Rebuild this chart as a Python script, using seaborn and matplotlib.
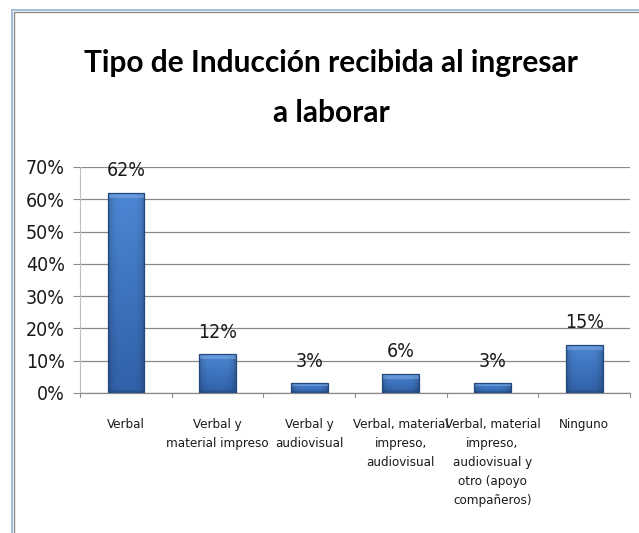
import numpy as np
import pandas as pd
import matplotlib
matplotlib.use("Agg")
import matplotlib.pyplot as plt
import seaborn as sns
from matplotlib.lines import Line2D

categories = ["Verbal", "Verbal y\nmaterial impreso", "Verbal y\naudiovisual",
              "Verbal, material\nimpreso,\naudiovisual",
              "Verbal, material\nimpreso,\naudiovisual y\notro (apoyo\ncompañeros)",
              "Ninguno"]
values = [0.62, 0.12, 0.03, 0.06, 0.03, 0.15]
value_labels = ["62%", "12%", "3%", "6%", "3%", "15%"]
ytick_vals = [0, 0.1, 0.2, 0.3, 0.4, 0.5, 0.6, 0.7]
ytick_labels = ["0%", "10%", "20%", "30%", "40%", "50%", "60%", "70%"]
title_lines = ["Tipo de Inducción recibida al ingresar", "a laborar"]

sns.set_theme(style="white")
NARROW = ["DejaVu Sans"]
plt.rcParams["font.family"] = NARROW
plt.rcParams["font.stretch"] = "condensed"

W, H = 639, 533
fig = plt.figure(figsize=(W / 100, H / 100), dpi=100)
fig.patch.set_facecolor("white")
ax = fig.add_axes([80 / W, 1 - 393 / H, 550 / W, (393 - 167) / H])

df = pd.DataFrame({"cat": categories, "val": values})
sns.barplot(data=df, x="cat", y="val", ax=ax, color="#3A73BE", width=0.40,
            edgecolor="#22487C", linewidth=0.9, zorder=3)

# gradient shading on bars (vertical + edge darkening)
nx, ny = 64, 64
gx = np.linspace(0, 1, nx)
edge = 1 - 0.22 * (np.abs(gx - 0.5) * 2) ** 4
top = np.array([0.30, 0.53, 0.83])
bot = np.array([0.19, 0.38, 0.66])

for p in ax.patches:
    x0, y0 = p.get_x(), p.get_y()
    w, h = p.get_width(), p.get_height()
    gy = np.linspace(1, 0, ny)  # row 0 = top
    col = bot[None, :] + (top - bot)[None, :] * gy[:, None]
    img = col[:, None, :] * edge[None, :, None]
    im = ax.imshow(np.clip(img, 0, 1), extent=[x0, x0 + w, y0, y0 + h],
                   aspect="auto", zorder=3.5, interpolation="bilinear")
    im.set_clip_path(p)
    bev = min(h * 0.3, 0.016)
    ax.fill_between([x0, x0 + w], y0 + h - bev, y0 + h, color="#8AB4EA",
                    alpha=0.45, zorder=3.6, linewidth=0)
    bb = min(h * 0.2, 0.008)
    ax.fill_between([x0, x0 + w], y0, y0 + bb, color="#1C3F70",
                    alpha=0.35, zorder=3.6, linewidth=0)
    p.set_zorder(4)
    p.set_facecolor("none")

ax.set_xlim(-0.5, len(categories) - 0.5)
ax.set_ylim(0, 0.7)
ax.set_yticks(ytick_vals)
ax.set_yticklabels(ytick_labels, fontsize=14, stretch="condensed", color="#1a1a1a")
ax.set_xticks(range(len(categories)))
ax.set_xticklabels(categories, fontsize=9.5, stretch="condensed", linespacing=1.6,
                   va="top", color="#1a1a1a")
ax.set_xlabel("")
ax.set_ylabel("")

ax.grid(axis="y", color="#8A8A8A", linewidth=0.9, zorder=0)
ax.set_axisbelow(True)
for s in ["top", "right"]:
    ax.spines[s].set_visible(False)
ax.spines["left"].set_color("#BFBFBF")
ax.spines["left"].set_linewidth(0.8)
ax.spines["bottom"].set_color("#8A8A8A")
ax.spines["bottom"].set_linewidth(0.9)

ax.tick_params(axis="y", length=5, width=0.8, color="#8A8A8A", pad=6, left=True)
ax.tick_params(axis="x", length=0, pad=18)
for b in np.arange(-0.5, len(categories), 1.0):
    ax.add_line(Line2D([b, b], [0, -0.012], color="#8A8A8A", linewidth=0.8,
                       clip_on=False, transform=ax.transData))

for i, (v, lab) in enumerate(zip(values, value_labels)):
    ax.annotate(lab, (i, v), xytext=(0, 16), textcoords="offset points",
                ha="center", va="center", fontsize=14, stretch="condensed",
                color="#1a1a1a", zorder=6)

TITLE_FONT = ["Lato", "DejaVu Sans"]
for line, yb in zip(title_lines, [72, 122]):
    fig.text(331 / W, 1 - yb / H, line, ha="center", va="baseline",
             fontsize=21.5, fontweight="bold", family=TITLE_FONT,
             stretch="normal", color="black")

fig.add_artist(Line2D([11.5 / W, 11.5 / W], [0, 1 - 9.5 / H], color="#95B3D7",
                      linewidth=1.2, transform=fig.transFigure))
fig.add_artist(Line2D([13.5 / W, 13.5 / W], [0, 1 - 11.5 / H], color="#8C8C8C",
                      linewidth=1.0, transform=fig.transFigure))
fig.add_artist(Line2D([11.5 / W, 1], [1 - 9.5 / H, 1 - 9.5 / H], color="#95B3D7",
                      linewidth=1.2, transform=fig.transFigure))
fig.add_artist(Line2D([13.5 / W, 1], [1 - 11.5 / H, 1 - 11.5 / H], color="#8C8C8C",
                      linewidth=1.0, transform=fig.transFigure))

fig.savefig("out.png", dpi=100, facecolor="white")
